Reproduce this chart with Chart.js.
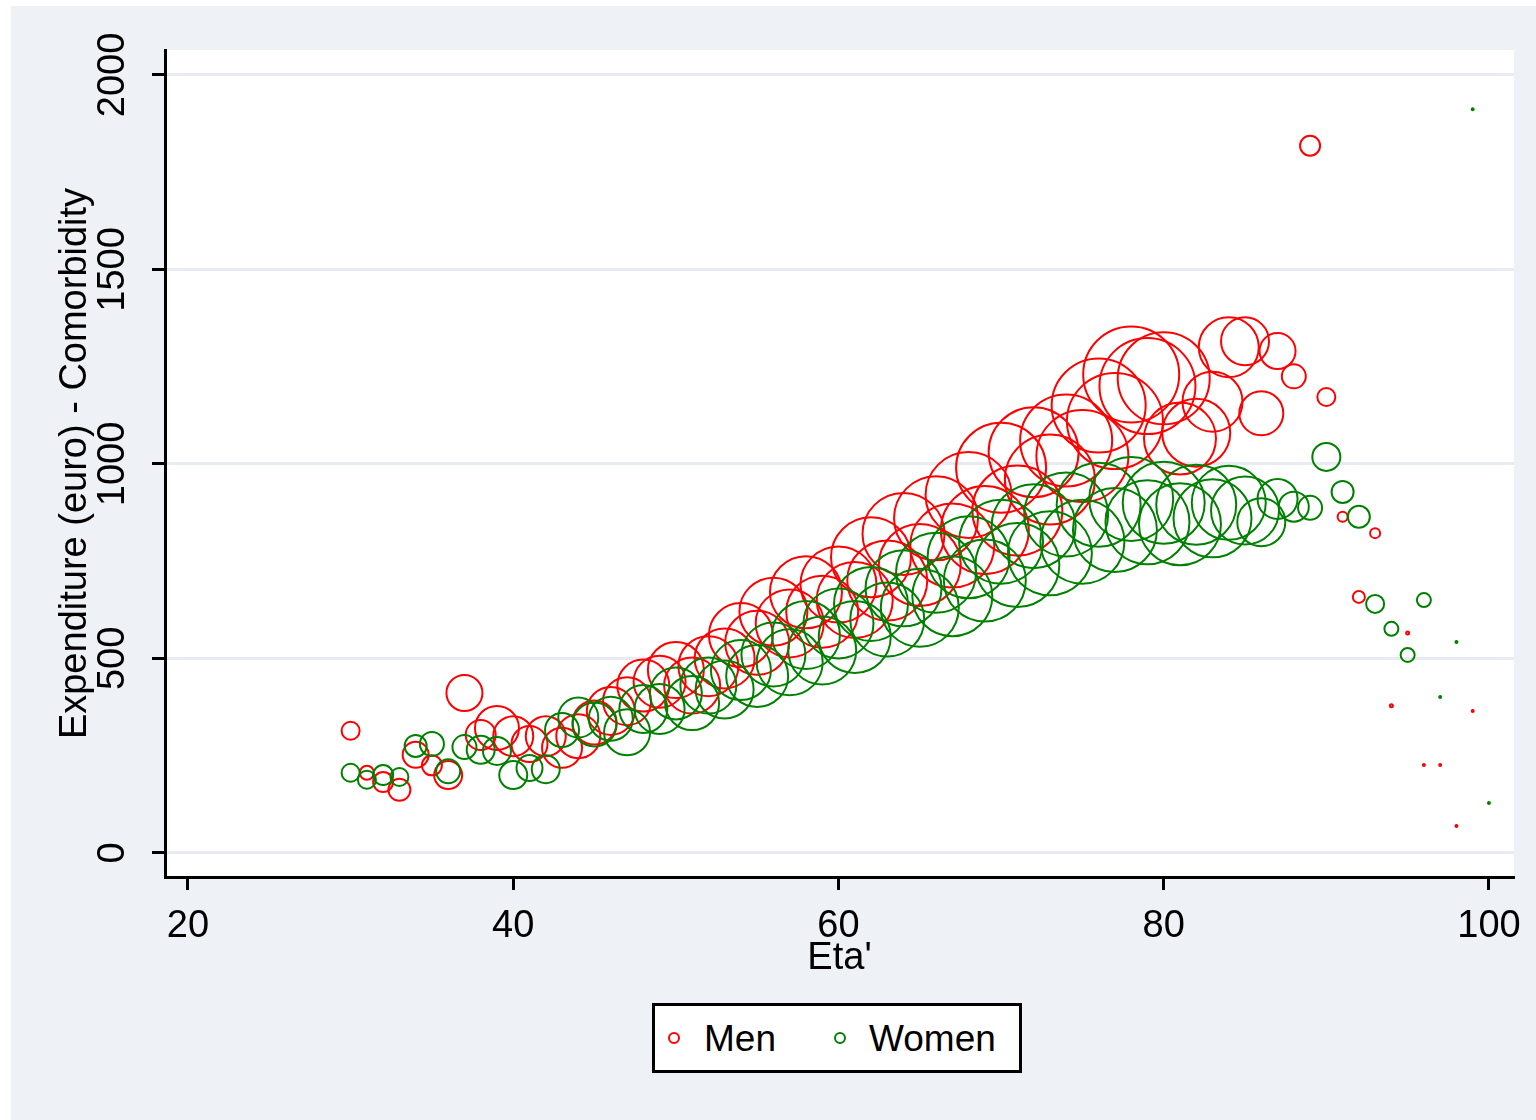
<!DOCTYPE html>
<html>
<head>
<meta charset="utf-8">
<title>Expenditure by age</title>
<script src="https://cdn.jsdelivr.net/npm/chart.js@4.4.1/dist/chart.umd.min.js"></script>
<style>
  html, body { margin: 0; padding: 0; background: #fff; }
  #frame { position: absolute; left: 11px; top: 6px; width: 1525px; height: 1114px; background: #eef1f6; }
  #chart { position: absolute; left: 0; top: 0; }
  #legend {
    position: absolute; left: 652px; top: 1003px; width: 364px; height: 64px;
    border: 3px solid #000; background: #fff;
    font-family: "Liberation Sans", Arial, sans-serif; font-size: 37px; color: #000;
  }
  #legend .dot { position: absolute; top: 26px; width: 8px; height: 8px; border: 2px solid; border-radius: 50%; }
  #legend .lbl { position: absolute; top: 0; line-height: 66px; }
</style>
</head>
<body>
<div id="frame"></div>
<canvas id="chart" width="1536" height="1120"></canvas>
<div id="legend">
  <span class="dot" style="left:13px;border-color:#ff0000"></span>
  <span class="lbl" style="left:49px">Men</span>
  <span class="dot" style="left:179px;border-color:#008000"></span>
  <span class="lbl" style="left:214px">Women</span>
</div>
<script>
// ages 30..100
const ages = [];
for (let a = 30; a <= 100; a++) ages.push(a);

// mean expenditure (euro), men
const menSpend = [
  314, 206, 182, 162, 252, 225, 200, 411, 303, 321,
  300, 280, 300, 270, 300, 335, 365, 390, 430, 440,
  470, 430, 480, 500, 560, 540, 620, 590, 670, 620,
  690, 650, 760, 700, 820, 740, 860, 790, 920, 830,
  990, 880, 1030, 960, 1060, 1020, 1150, 1110, 1230, 1200,
  1220, 1065, 1080, 1160, 1300, 1315, 1130, 1290, 1225, 1818,
  1172, 864, 658, 822, 378, 565, 226, 226, 69, 365,
  null
];
// bubble weight (number of patients), men
const menWeight = [
  324, 196, 400, 484, 676, 400, 784, 1296, 900, 1936,
  1600, 1296, 1600, 1600, 1936, 1936, 2304, 2304, 2704, 2704,
  3136, 3136, 3600, 3600, 4096, 4096, 4624, 4624, 5184, 5184,
  5776, 5776, 6400, 6400, 6724, 6724, 7056, 7056, 7396, 7744,
  8100, 8100, 8100, 8100, 8464, 8464, 8836, 9216, 9216, 9216,
  8464, 5184, 4624, 3600, 3600, 2304, 1936, 1296, 576, 400,
  324, 100, 144, 100, 9, 9, 4, 4, 4, 4,
  null
];

// mean expenditure (euro), women
const womenSpend = [
  206, 188, 200, 195, 275, 280, 210, 272, 265, 262,
  200, 218, 215, 316, 348, 330, 345, 310, 370, 370,
  410, 385, 430, 420, 470, 455, 510, 490, 560, 520,
  590, 555, 640, 600, 680, 630, 720, 660, 760, 700,
  800, 740, 840, 770, 870, 800, 895, 830, 910, 850,
  900, 845, 895, 860, 900, 880, 850, 910, 890, 887,
  1018, 928, 864, 640, 576, 509, 650, 401, 542, 1912,
  128
];
// bubble weight (number of patients), women
const womenWeight = [
  324, 324, 400, 324, 484, 576, 576, 576, 784, 784,
  784, 676, 784, 1156, 1600, 1936, 1936, 2116, 2304, 2500,
  2704, 2916, 3136, 3364, 3600, 3844, 4096, 4356, 4624, 4624,
  4900, 5184, 5476, 5476, 5776, 6084, 6400, 6400, 6724, 6724,
  7056, 7056, 7056, 7056, 7056, 7056, 7056, 7056, 7056, 7056,
  6724, 6724, 6400, 6084, 5476, 4624, 2304, 1600, 900, 576,
  784, 484, 484, 324, 196, 196, 196, 4, 4, 4,
  4
];

const xTicks = [20, 40, 60, 80, 100];
const yTicks = [0, 500, 1000, 1500, 2000];

const FONT = '"Liberation Sans", Arial, sans-serif';

function bubbles(spend, weight) {
  return ages
    .map((a, i) => spend[i] == null ? null : { x: a, y: spend[i], r: 0.5 * Math.sqrt(weight[i]) })
    .filter(Boolean);
}

// white plot area, tick labels (y ones rotated like the original)
const plotDeco = {
  id: 'plotDeco',
  beforeDraw(chart) {
    const { ctx, chartArea: c } = chart;
    ctx.save();
    ctx.fillStyle = '#fff';
    ctx.fillRect(c.left, c.top, c.right - c.left, c.bottom - c.top);
    ctx.restore();
  },
  afterDraw(chart) {
    const { ctx } = chart;
    const x = chart.scales.x;
    const y = chart.scales.y;
    ctx.save();
    ctx.fillStyle = '#000';
    ctx.font = '38px ' + FONT;
    ctx.textAlign = 'center';
    ctx.textBaseline = 'middle';
    yTicks.forEach(v => {
      ctx.save();
      ctx.translate(114, y.getPixelForValue(v));
      ctx.rotate(-Math.PI / 2);
      ctx.fillText(String(v), 0, 0);
      ctx.restore();
    });
    xTicks.forEach(v => {
      ctx.fillText(String(v), x.getPixelForValue(v), x.top + 50);
    });
    ctx.restore();
  }
};

new Chart(document.getElementById('chart'), {
  type: 'bubble',
  data: {
    datasets: [
      {
        label: 'Men',
        data: bubbles(menSpend, menWeight),
        borderColor: '#ff0000',
        backgroundColor: 'rgba(0,0,0,0)',
        borderWidth: 2,
        order: 2
      },
      {
        label: 'Women',
        data: bubbles(womenSpend, womenWeight),
        borderColor: '#008000',
        backgroundColor: 'rgba(0,0,0,0)',
        borderWidth: 2,
        order: 1
      }
    ]
  },
  options: {
    responsive: false,
    animation: false,
    devicePixelRatio: 1,
    events: [],
    layout: { autoPadding: false, padding: { left: 0, top: 50, right: 22, bottom: 139 } },
    plugins: { legend: { display: false }, tooltip: { enabled: false } },
    scales: {
      x: {
        type: 'linear',
        min: 18.586,
        max: 101.54,
        afterBuildTicks: s => { s.ticks = xTicks.map(v => ({ value: v })); },
        afterFit: s => { s.height = 104; s.paddingLeft = 0; s.paddingRight = 0; },
        ticks: { display: false },
        grid: { drawOnChartArea: false, drawTicks: true, tickLength: 13, tickWidth: 3, tickColor: '#000' },
        border: { display: true, color: '#000', width: 3 },
        title: { display: true, text: "Eta'", color: '#000', font: { family: FONT, size: 38 }, padding: { top: 0, bottom: 0 } }
      },
      y: {
        type: 'linear',
        min: -62,
        max: 2064,
        afterBuildTicks: s => { s.ticks = yTicks.map(v => ({ value: v })); },
        afterFit: s => { s.width = 165; s.paddingTop = 0; s.paddingBottom = 0; },
        ticks: { display: false },
        grid: { color: '#e8ecf2', lineWidth: 3, drawTicks: true, tickLength: 13, tickWidth: 3, tickColor: '#000' },
        border: { display: true, color: '#000', width: 3 },
        title: { display: true, text: 'Expenditure (euro) - Comorbidity', color: '#000', font: { family: FONT, size: 38 }, padding: { top: 53, bottom: 0 } }
      }
    }
  },
  plugins: [plotDeco]
});
</script>
</body>
</html>
